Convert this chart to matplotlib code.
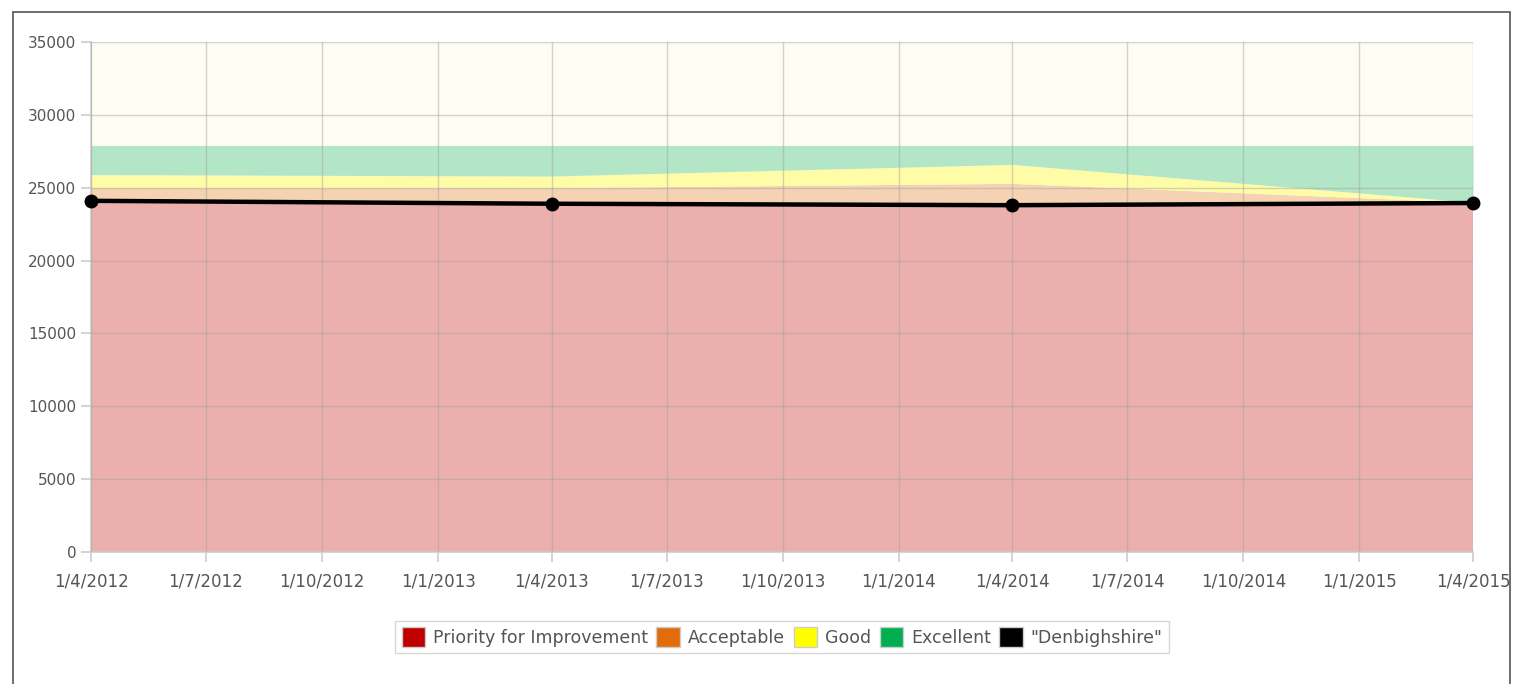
import matplotlib
matplotlib.use("Agg")
import matplotlib.pyplot as plt
from matplotlib.patches import Rectangle, Patch
import datetime as dt

# data points (1 April each year)
dates = [dt.date(2012, 4, 1), dt.date(2013, 4, 1), dt.date(2014, 4, 1), dt.date(2015, 4, 1)]
priority_top = [24000, 24000, 24000, 24000]
acceptable_top = [25000, 25000, 25300, 24000]
good_top = [25900, 25800, 26600, 24000]
excellent_top = [27900, 27900, 27900, 27900]
denbighshire = [24100, 23900, 23800, 23950]

tick_dates = [dt.date(2012 + (3 + 3 * i) // 12, (3 + 3 * i) % 12 + 1, 1) for i in range(13)]
tick_labels = [f"{d.day}/{d.month}/{d.year}" for d in tick_dates]

fig = plt.figure(figsize=(15.23, 6.84), dpi=100)
fig.patches.append(Rectangle((13 / 1523, -0.01), (1510 - 13) / 1523, 1 - 12 / 684 + 0.01,
                             transform=fig.transFigure, fill=False, edgecolor="#555555", linewidth=1.2))
ax = fig.add_axes([91 / 1523, 1 - 552 / 684, (1473 - 91) / 1523, (552 - 42) / 684])
ax.set_facecolor("#fffcf4")

base = [0] * len(dates)
ax.fill_between(dates, base, priority_top, color="#ebb0ae", linewidth=0, zorder=1)
ax.fill_between(dates, priority_top, acceptable_top, color="#f5d2b1", linewidth=0, zorder=1)
ax.fill_between(dates, acceptable_top, good_top, color="#fefca6", linewidth=0, zorder=1)
ax.fill_between(dates, good_top, excellent_top, color="#b3e6c6", linewidth=0, zorder=1)

ax.plot(dates, denbighshire, color="black", linewidth=3.2, marker="o", markersize=9, zorder=4,
        clip_on=False)

ax.set_ylim(0, 35000)
ax.set_xlim(dates[0], dates[-1])
ax.set_yticks(range(0, 35001, 5000))
ax.set_xticks(tick_dates)
ax.set_xticklabels(tick_labels)
ax.grid(True, color="#a0a0a0", alpha=0.45, linewidth=1, zorder=2)
ax.set_axisbelow(False)
for s in ["top", "right"]:
    ax.spines[s].set_visible(False)
for s in ["left", "bottom"]:
    ax.spines[s].set_color("#cccccc")
    ax.spines[s].set_linewidth(1.2)
ax.tick_params(colors="#cccccc", labelcolor="#555555", labelsize=11, length=7, width=1.2)
ax.tick_params(axis="x", pad=8, labelsize=12)

handles = [Patch(facecolor=c, edgecolor="#cccccc", linewidth=1) for c in
           ["#c00000", "#e36c0a", "#ffff00", "#00b050", "#000000"]]
labels = ["Priority for Improvement", "Acceptable", "Good", "Excellent", '"Denbighshire"']
leg = fig.legend(handles, labels, loc="center", bbox_to_anchor=(782 / 1523, 1 - 637 / 684), ncol=5,
                 frameon=True, fancybox=False, edgecolor="#cccccc", fontsize=12.5,
                 handlelength=1.35, handleheight=1.35, handletextpad=0.45, columnspacing=0.5,
                 borderpad=0.35, labelcolor="#555555")
leg.get_frame().set_linewidth(1)

fig.savefig("out.png", dpi=100)
